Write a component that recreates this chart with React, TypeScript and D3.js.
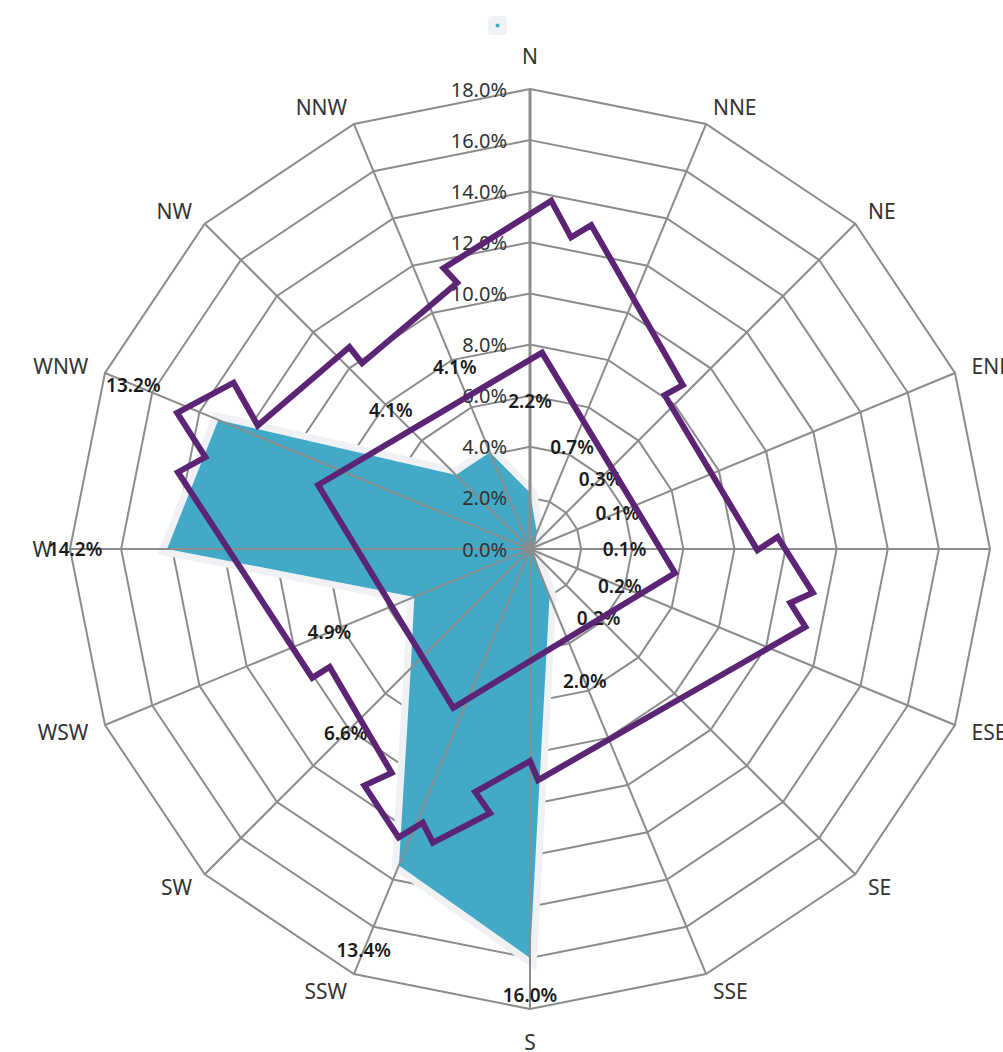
import React from 'react';
import * as d3 from 'd3';

// ---- data ----
const directions = ['N', 'NNE', 'NE', 'ENE', 'E', 'ESE', 'SE', 'SSE', 'S', 'SSW', 'SW', 'WSW', 'W', 'WNW', 'NW', 'NNW'];
const frequency = [2.2, 0.7, 0.3, 0.1, 0.1, 0.2, 0.2, 2.0, 16.0, 13.4, 6.6, 4.9, 14.2, 13.2, 4.1, 4.1];
const radialTicks = [0, 2, 4, 6, 8, 10, 12, 14, 16, 18];

// purple outline (angle in degrees clockwise from north, value in %)
const outerLoopAngles = [3.5, 7.5, 10.7, 43.0, 41.2, 90.3, 87.2, 98.8, 101.7, 105.8, 178.0, 180.0, 192.7, 188.6, 198.3, 201.4, 204.5, 215.0, 211.7, 239.5, 239.4, 282.3, 285.8, 291.1, 299.3, 294.4, 318.2, 317.9, 344.7, 342.9];
const outerLoopValues = [13.65, 12.3, 12.9, 8.77, 8.0, 8.9, 9.7, 11.2, 10.4, 11.2, 9.05, 8.3, 9.75, 10.45, 12.1, 11.5, 12.4, 11.3, 10.3, 9.1, 9.9, 14.1, 13.2, 14.8, 13.3, 11.7, 10.6, 9.8, 10.8, 11.5];
const innerLoopAngles = [3.5, 99.4, 205.8, 286.8];
const innerLoopValues = [7.7, 5.75, 6.9, 8.66];

const W = 1003;
const H = 1052;
const cx = 530;
const cy = 549;
const R = 460;

const BLUE = '#42aac6';
const PURPLE = '#5b2474';
const GRID = '#8c8c8c';
const FONT = "'Noto Sans', 'Open Sans', sans-serif";

export default function App() {
  const r = d3.scaleLinear().domain([0, 18]).range([0, R]);
  const angle = d3.scalePoint<string>().domain(directions).range([0, 2 * Math.PI * (15 / 16)]);
  const rad = (deg: number) => (deg * Math.PI) / 180;

  const ringLine = d3
    .lineRadial<string>()
    .angle((d) => angle(d) as number)
    .radius(0)
    .curve(d3.curveLinearClosed);

  const areaLine = d3
    .lineRadial<number>()
    .angle((_, i) => angle(directions[i]) as number)
    .radius((d) => r(d))
    .curve(d3.curveLinearClosed);

  const loopLine = d3
    .lineRadial<[number, number]>()
    .angle((d) => rad(d[0]))
    .radius((d) => r(d[1]))
    .curve(d3.curveLinearClosed);

  const outer: [number, number][] = outerLoopAngles.map((a, i) => [a, outerLoopValues[i]]);
  const inner: [number, number][] = innerLoopAngles.map((a, i) => [a, innerLoopValues[i]]);

  const areaPath = areaLine(frequency) || '';

  return (
    <svg
      width={W}
      height={H}
      style={{ position: 'absolute', left: 0, top: 0, background: '#fff' }}
      fontFamily={FONT}
    >
      {/* legend */}
      <rect x={488} y={16} width={19} height={19} rx={4} fill="#f0f2f5" />
      <circle cx={497.5} cy={25.5} r={2} fill={BLUE} />

      <g transform={`translate(${cx},${cy})`}>
        {/* rings */}
        {radialTicks
          .filter((t) => t > 0)
          .map((t) => (
            <path
              key={`ring-${t}`}
              d={ringLine.radius(r(t))(directions) || ''}
              fill="none"
              stroke={GRID}
              strokeWidth={2}
            />
          ))}

        {/* area with halo */}
        <path d={areaPath} fill="none" stroke="#eff1f4" strokeWidth={14} strokeLinejoin="miter" />
        <path d={areaPath} fill={BLUE} stroke="none" />

        {/* spokes */}
        {directions.map((d, i) => {
          const a = angle(d) as number;
          return (
            <line
              key={`spoke-${d}`}
              x1={0}
              y1={0}
              x2={Math.sin(a) * R}
              y2={-Math.cos(a) * R}
              stroke={GRID}
              strokeWidth={i === 0 ? 3 : 2}
            />
          );
        })}

        {/* radial tick labels */}
        {radialTicks.map((t) => (
          <text
            key={`tick-${t}`}
            x={-23}
            y={-r(t)}
            textAnchor="end"
            dominantBaseline="central"
            fontSize={20}
            fill="#333"
          >
            {t.toFixed(1)}%
          </text>
        ))}

        {/* direction labels */}
        {directions.map((d) => {
          const a = angle(d) as number;
          const s = Math.sin(a);
          const c = -Math.cos(a);
          const centered = Math.abs(s) < 0.3;
          const lr = centered ? 493 : 478;
          return (
            <text
              key={`dir-${d}`}
              x={s * lr}
              y={c * lr}
              textAnchor={centered ? 'middle' : s > 0 ? 'start' : 'end'}
              dominantBaseline="central"
              fontSize={21}
              fill="#333"
            >
              {d}
            </text>
          );
        })}

        {/* data labels */}
        {frequency.map((v, i) => {
          const a = angle(directions[i]) as number;
          const lr = r(v) + 92;
          const x = Math.sin(a) * lr;
          const y = Math.min(-Math.cos(a) * lr, 995 - cy);
          return (
            <text
              key={`lab-${i}`}
              x={x}
              y={y}
              textAnchor="middle"
              dominantBaseline="central"
              fontSize={19}
              fontWeight={600}
              fill="#1a1a1a"
            >
              {v.toFixed(1)}%
            </text>
          );
        })}

        {/* purple outlines */}
        <path d={loopLine(outer) || ''} fill="none" stroke={PURPLE} strokeWidth={6} strokeLinejoin="miter" />
        <path d={loopLine(inner) || ''} fill="none" stroke={PURPLE} strokeWidth={6} strokeLinejoin="miter" />
      </g>
    </svg>
  );
}
